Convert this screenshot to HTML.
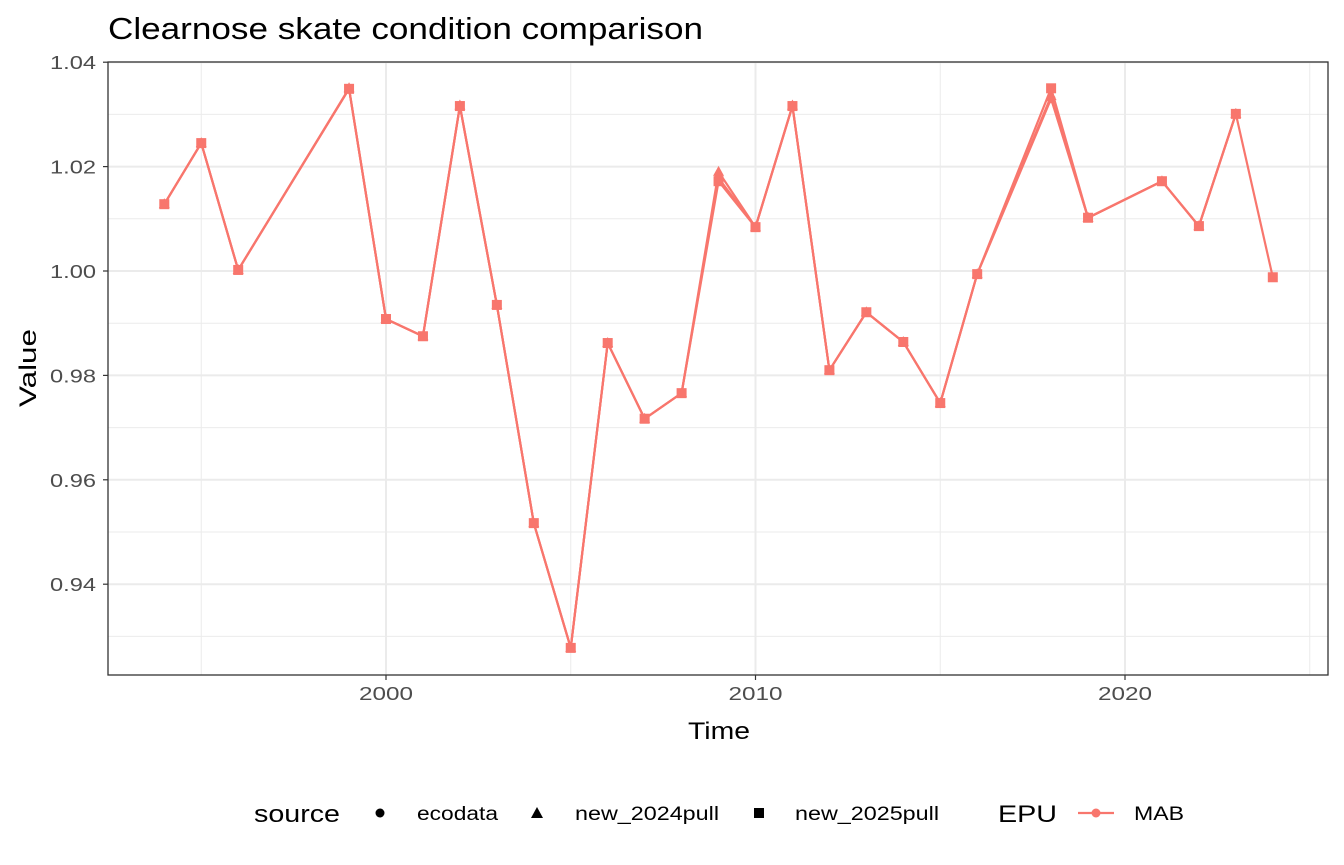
<!DOCTYPE html>
<html><head><meta charset="utf-8"><style>
html,body{margin:0;padding:0;background:#fff;}
svg{display:block;font-family:"Liberation Sans",Arial,sans-serif;}
</style></head><body>
<svg id="chart" width="1344" height="865" viewBox="0 0 1344 865">
<text x="108" y="39" font-size="31" textLength="595" lengthAdjust="spacingAndGlyphs" fill="#000">Clearnose skate condition comparison</text>
<g id="grid"></g>
<g id="series"></g>
<rect x="108" y="62" width="1220" height="613" fill="none" stroke="#333" stroke-width="1.3"/>
<g id="axes"></g>
<text x="688" y="739" font-size="24" textLength="62" lengthAdjust="spacingAndGlyphs" fill="#000">Time</text>
<text transform="translate(36,407) rotate(-90)" font-size="24" textLength="78" lengthAdjust="spacingAndGlyphs" fill="#000">Value</text>
<g>
<text x="254" y="822" font-size="24" textLength="86" lengthAdjust="spacingAndGlyphs" fill="#000">source</text>
<circle cx="380" cy="813" r="4.5" fill="#000"/>
<text x="417" y="820" font-size="19" textLength="81" lengthAdjust="spacingAndGlyphs" fill="#000">ecodata</text>
<polygon points="537,807 543,818 531,818" fill="#000"/>
<text x="575" y="820" font-size="19" textLength="144" lengthAdjust="spacingAndGlyphs" fill="#000">new_2024pull</text>
<rect x="754" y="808" width="10" height="10" fill="#000"/>
<text x="795" y="820" font-size="19" textLength="144" lengthAdjust="spacingAndGlyphs" fill="#000">new_2025pull</text>
<text x="998" y="822" font-size="24" textLength="59" lengthAdjust="spacingAndGlyphs" fill="#000">EPU</text>
<line x1="1078" y1="813" x2="1114" y2="813" stroke="#F8766D" stroke-width="2.2"/>
<circle cx="1096" cy="813" r="4.5" fill="#F8766D"/>
<text x="1134" y="820" font-size="19" textLength="50" lengthAdjust="spacingAndGlyphs" fill="#000">MAB</text>
</g>
</svg>
<script>
const years = [1994,1995,1996,1999,2000,2001,2002,2003,2004,2005,2006,2007,2008,2009,2010,2011,2012,2013,2014,2015,2016,2018,2019,2021,2022,2023];
const ecodata = [1.0128,1.0245,1.0002,1.0349,0.9908,0.9875,1.0316,0.9935,0.9517,0.9278,0.9862,0.9717,0.9766,1.0178,1.0084,1.0316,0.9810,0.9921,0.9864,0.9747,0.9994,1.0330,1.0102,1.0172,1.0086,1.0301];
const pull2024 = [1.0128,1.0245,1.0002,1.0350,0.9908,0.9875,1.0317,0.9935,0.9517,0.9278,0.9862,0.9717,0.9766,1.0190,1.0084,1.0317,0.9810,0.9921,0.9864,0.9747,0.9994,1.0335,1.0102,1.0172,1.0086,1.0301];
const years2025 = [1994,1995,1996,1999,2000,2001,2002,2003,2004,2005,2006,2007,2008,2009,2010,2011,2012,2013,2014,2015,2016,2018,2019,2021,2022,2023,2024];
const pull2025 = [1.0128,1.0245,1.0002,1.0349,0.9908,0.9875,1.0316,0.9935,0.9517,0.9278,0.9862,0.9717,0.9766,1.0172,1.0084,1.0316,0.9810,0.9921,0.9864,0.9747,0.9994,1.0350,1.0102,1.0172,1.0086,1.0301,0.9988];
const xTicks = [2000,2010,2020];
const xMinor = [1995,2005,2015,2025];
const yTicks = [0.94,0.96,0.98,1.00,1.02,1.04];
const yTickLabels = ["0.94","0.96","0.98","1.00","1.02","1.04"];
const yMinor = [0.93,0.95,0.97,0.99,1.01,1.03];

const NS="http://www.w3.org/2000/svg";
const X = y => 386 + (y-2000)*36.95;
const Y = v => 271 - (v-1.00)*5220;
const L=108,R=1328,T=62,B=675;
function mk(tag,attrs,parent){const e=document.createElementNS(NS,tag);for(const k in attrs)e.setAttribute(k,attrs[k]);parent.appendChild(e);return e;}
const grid=document.getElementById('grid'),axes=document.getElementById('axes'),ser=document.getElementById('series');
xMinor.forEach(v=>{const e=mk('line',{x1:X(v),x2:X(v),y1:T,y2:B,stroke:'#ebebeb','stroke-width':1},grid);

});
yMinor.forEach(v=>{const e=mk('line',{x1:L,x2:R,y1:Y(v),y2:Y(v),stroke:'#ebebeb','stroke-width':1},grid);

});
xTicks.forEach(v=>{const e=mk('line',{x1:X(v),x2:X(v),y1:T,y2:B,stroke:'#ebebeb','stroke-width':2},grid);


const t=mk('line',{x1:X(v),x2:X(v),y1:B,y2:B+5,stroke:'#333','stroke-width':1.2},axes);


const l=mk('text',{x:X(v)-27,y:B+25,'font-size':18,textLength:54,lengthAdjust:'spacingAndGlyphs',fill:'#4d4d4d'},axes);l.textContent=v;

});
yTicks.forEach((v,i)=>{const e=mk('line',{x1:L,x2:R,y1:Y(v),y2:Y(v),stroke:'#ebebeb','stroke-width':2},grid);


const t=mk('line',{x1:L-5,x2:L,y1:Y(v),y2:Y(v),stroke:'#333','stroke-width':1.2},axes);


const l=mk('text',{x:L-58,y:Y(v)+7,'font-size':18,textLength:46,lengthAdjust:'spacingAndGlyphs',fill:'#4d4d4d'},axes);l.textContent=yTickLabels[i];

});
const col='#F8766D';
function drawSeries(xs,vs,shape,name){
  const p=mk('polyline',{points:xs.map((x,i)=>X(x)+','+Y(vs[i])).join(' '),fill:'none',stroke:col,'stroke-width':2.2},ser);
  
  
  xs.forEach((x,i)=>{const cx=X(x),cy=Y(vs[i]);let m;
    if(shape==='c')m=mk('circle',{cx:cx,cy:cy,r:4.5,fill:col},ser);
    else if(shape==='t')m=mk('polygon',{points:`${cx},${cy-6} ${cx+5.5},${cy+4} ${cx-5.5},${cy+4}`,fill:col},ser);
    else m=mk('rect',{x:cx-5,y:cy-5,width:10,height:10,fill:col},ser);
    
    });
}
drawSeries(years,ecodata,'c','ecodata');
drawSeries(years,pull2024,'t','new-2024pull');
drawSeries(years2025,pull2025,'s','new-2025pull');
</script>
</body></html>
